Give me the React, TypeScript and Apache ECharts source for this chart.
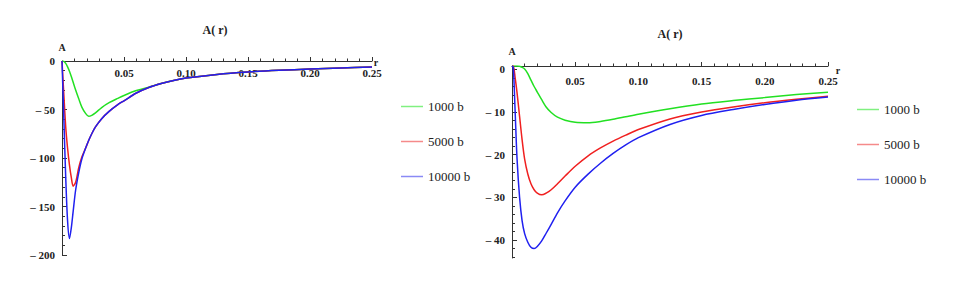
import React, { useEffect, useRef } from "react";
import * as echarts from "echarts";

const seriesNames = ["1000 b", "5000 b", "10000 b"];
const lineColors = ["#22e022", "#f02020", "#2020f0"];
const legendColors = ["#80f080", "#f58a8a", "#8a8af5"];

const xTickLabels = [0.05, 0.1, 0.15, 0.2, 0.25];
const xMinorTicks = [0.01, 0.02, 0.03, 0.04, 0.06, 0.07, 0.08, 0.09, 0.11, 0.12, 0.13, 0.14, 0.16, 0.17, 0.18, 0.19, 0.21, 0.22, 0.23, 0.24];

const rLeft = [0, 0.0015, 0.003, 0.0045, 0.006, 0.0075, 0.009, 0.011, 0.0135, 0.016, 0.019, 0.0215, 0.024, 0.027, 0.032, 0.038, 0.045, 0.05, 0.06, 0.07, 0.08, 0.09, 0.1, 0.125, 0.15, 0.175, 0.2, 0.225, 0.25];
const leftGreen = [0, -0.5, -2.5, -6, -10.5, -16, -22, -30, -39, -47.5, -54, -57, -56, -53.5, -48, -43, -38.5, -35.5, -30.5, -27, -23.2, -20, -17.6, -13.8, -11.3, -9.6, -8.3, -7.2, -6.3];
const leftRed = [0, -35, -68, -90, -107, -120, -129, -125, -110, -99, -90, -82, -75, -68, -59.5, -52, -45, -41, -33, -27.3, -23.2, -20, -17.6, -13.8, -11.3, -9.6, -8.3, -7.2, -6.3];
const leftBlue = [0, -60, -120, -165, -183, -172, -155, -133, -115, -101, -90, -82, -75, -68, -59.5, -52, -45, -41, -33, -27.3, -23.2, -20, -17.6, -13.8, -11.3, -9.6, -8.3, -7.2, -6.3];
const leftYTicks = [0, -50, -100, -150, -200];
const leftYMinor = [-10, -20, -30, -40, -60, -70, -80, -90, -110, -120, -130, -140, -160, -170, -180, -190];

const rRight = [0, 0.001, 0.0025, 0.004, 0.006, 0.008, 0.01, 0.0125, 0.015, 0.0175, 0.02, 0.0235, 0.027, 0.031, 0.036, 0.042, 0.05, 0.06, 0.07, 0.08, 0.09, 0.1, 0.125, 0.15, 0.175, 0.2, 0.225, 0.25];
const rightGreen = [0.8, 0.8, 0.8, 0.8, 0.75, 0.5, 0.1, -1, -2.5, -4, -5.3, -7.1, -8.8, -10.1, -11.2, -11.9, -12.4, -12.5, -12.2, -11.7, -11.1, -10.5, -9.2, -8.1, -7.3, -6.6, -5.9, -5.35];
const rightRed = [0.8, 0.8, -2, -5.5, -11, -16.5, -21, -24.5, -26.8, -28.2, -29, -29.4, -29.0, -28.2, -26.8, -25.0, -22.7, -20.3, -18.4, -16.8, -15.4, -14.1, -11.6, -10, -8.8, -7.8, -7, -6.3];
const rightBlue = [0.8, 0.5, -10, -21, -30, -35.5, -38.5, -40.5, -41.7, -42, -41.5, -40.2, -38.4, -36.3, -33.6, -30.8, -27.6, -24.6, -22, -19.7, -17.7, -16, -12.9, -10.8, -9.4, -8.2, -7.2, -6.45];
const rightYTicks = [0, -10, -20, -30, -40];
const rightYMinor = [-2, -4, -6, -8, -12, -14, -16, -18, -22, -24, -26, -28, -32, -34, -36, -38, -42, -44];

const serif = '"Liberation Serif", "DejaVu Serif", serif';
const axisColor = "#333";
const labelStyle = { fontFamily: serif, fontWeight: "bold" as const, fontSize: 11, color: "#222" };

const yFmt = (v: number) => (v === 0 ? "0" : "\u2013 " + Math.abs(v));

export default function App() {
  const ref = useRef<HTMLDivElement>(null);
  useEffect(() => {
    document.body.style.margin = "0";
    const chart = echarts.init(ref.current!, undefined, { renderer: "svg" });
    const pairs = (xs: number[], ys: number[]) => xs.map((x, i) => [x, ys[i]]);
    const leftData = [leftGreen, leftRed, leftBlue];
    const rightData = [rightGreen, rightRed, rightBlue];

    const xMajor = (gridIndex: number, margin: number) => ({
      type: "value" as const,
      gridIndex,
      min: 0,
      max: 0.25,
      position: "top" as const,
      axisLine: { show: true, onZero: false, lineStyle: { color: axisColor, width: 1 } },
      axisTick: { show: true, inside: false, length: 4, customValues: xTickLabels, lineStyle: { color: axisColor } },
      axisLabel: {
        ...labelStyle,
        inside: true,
        margin,
        customValues: xTickLabels,
        formatter: (v: number) => v.toFixed(2),
      },
      splitLine: { show: false },
    });
    const xMinor = (gridIndex: number) => ({
      type: "value" as const,
      gridIndex,
      min: 0,
      max: 0.25,
      position: "top" as const,
      axisLine: { show: false, onZero: false },
      axisTick: { show: true, inside: false, length: 2.5, customValues: xMinorTicks, lineStyle: { color: axisColor } },
      axisLabel: { show: false },
      splitLine: { show: false },
    });
    const yMajor = (gridIndex: number, min: number, max: number, ticks: number[]) => ({
      type: "value" as const,
      gridIndex,
      min,
      max,
      position: "left" as const,
      axisLine: { show: true, onZero: false, lineStyle: { color: axisColor, width: 1 } },
      axisTick: { show: true, inside: true, length: 5, customValues: ticks, lineStyle: { color: axisColor } },
      axisLabel: { ...labelStyle, margin: 7, customValues: ticks, formatter: yFmt },
      splitLine: { show: false },
    });
    const yMinor = (gridIndex: number, min: number, max: number, ticks: number[]) => ({
      type: "value" as const,
      gridIndex,
      min,
      max,
      position: "left" as const,
      axisLine: { show: false, onZero: false },
      axisTick: { show: true, inside: true, length: 3, customValues: ticks, lineStyle: { color: axisColor } },
      axisLabel: { show: false },
      splitLine: { show: false },
    });

    const nameText = (x: number, y: number, text: string) => ({
      type: "text",
      x,
      y,
      style: { text, font: 'bold 10px "Liberation Serif", serif', fill: "#222", textAlign: "center", textVerticalAlign: "middle" },
    });

    const legendBase = (left: number, top: number) => ({
      data: seriesNames.map((n, i) => ({ name: n, itemStyle: { color: legendColors[i] } })),
      orient: "vertical",
      left,
      top,
      padding: 0,
      icon: "rect",
      itemWidth: 22,
      itemHeight: 1.5,
      itemGap: 22,
      textStyle: { fontFamily: serif, fontSize: 13, color: "#222" },
    });

    const option = {
      animation: false,
      backgroundColor: "#fff",
      grid: [
        { left: 62, top: 61, width: 310, height: 194 },
        { left: 512, top: 66, width: 316, height: 192 },
      ],
      xAxis: [xMajor(0, 6), xMinor(0), xMajor(1, 9), xMinor(1)],
      yAxis: [
        yMajor(0, -200, 0, leftYTicks),
        yMinor(0, -200, 0, leftYMinor),
        yMajor(1, -44.2, 0.8, rightYTicks),
        yMinor(1, -44.2, 0.8, rightYMinor),
      ],
      legend: [legendBase(401, 100), legendBase(857, 103)],
      graphic: [
        {
          type: "text",
          x: 215,
          y: 30,
          style: { text: "A( r)", font: 'bold 12px "Liberation Serif", serif', fill: "#222", textAlign: "center", textVerticalAlign: "middle" },
        },
        {
          type: "text",
          x: 670,
          y: 34,
          style: { text: "A( r)", font: 'bold 12px "Liberation Serif", serif', fill: "#222", textAlign: "center", textVerticalAlign: "middle" },
        },
        nameText(62, 47, "A"),
        nameText(376, 62, "r"),
        nameText(512, 51, "A"),
        nameText(838, 70, "r"),
      ],
      series: [
        ...seriesNames.map((n, i) => ({
          name: n,
          type: "line",
          xAxisIndex: 0,
          yAxisIndex: 0,
          data: pairs(rLeft, leftData[i]),
          smooth: 0.3,
          showSymbol: false,
          symbol: "none",
          lineStyle: { color: lineColors[i], width: 1.5 },
          itemStyle: { color: lineColors[i] },
          z: 3 + i,
        })),
        ...seriesNames.map((n, i) => ({
          name: n,
          type: "line",
          xAxisIndex: 2,
          yAxisIndex: 2,
          data: pairs(rRight, rightData[i]),
          smooth: 0.3,
          showSymbol: false,
          symbol: "none",
          lineStyle: { color: lineColors[i], width: 1.5 },
          itemStyle: { color: lineColors[i] },
          z: 3 + i,
        })),
      ],
    };
    chart.setOption(option as any);
    return () => chart.dispose();
  }, []);
  return <div ref={ref} style={{ width: 958, height: 304 }} />;
}
